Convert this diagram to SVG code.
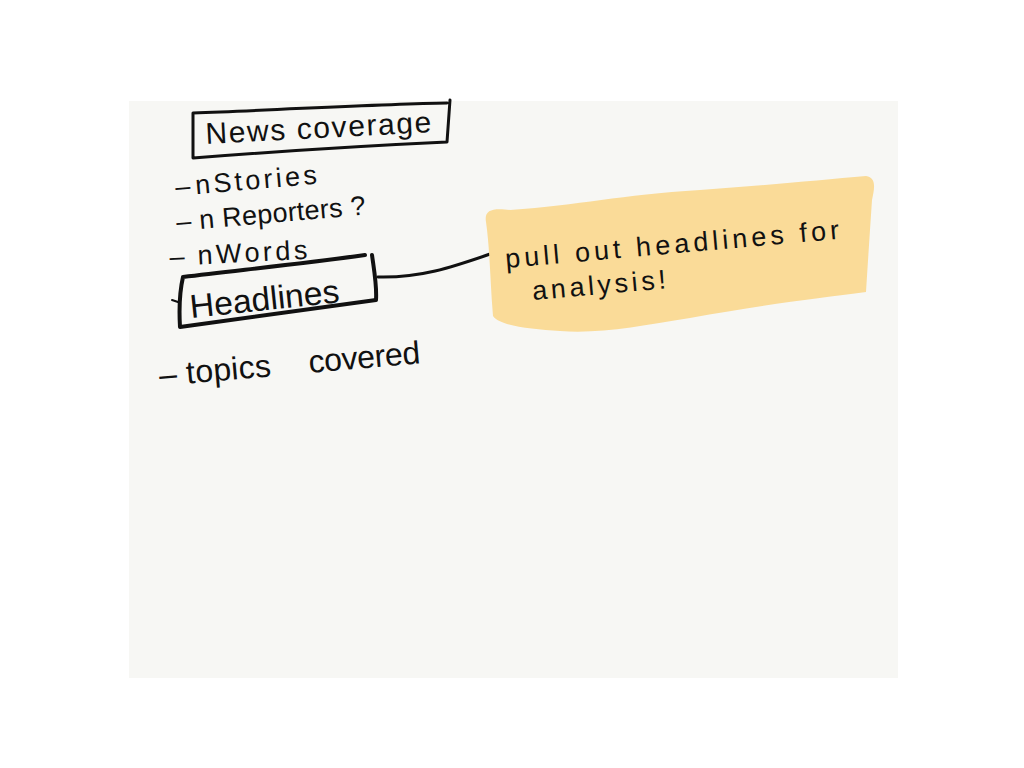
<svg xmlns="http://www.w3.org/2000/svg" width="1024" height="768" viewBox="0 0 1024 768">
<style>
.t{font-family:"Liberation Sans","DejaVu Sans",sans-serif;fill:#111;}
.box{fill:none;stroke:#111;stroke-linejoin:round;stroke-linecap:round;}
.con{fill:none;stroke:#111;stroke-width:3;stroke-linecap:round;}
</style>
<rect x="0" y="0" width="1024" height="768" fill="#ffffff"/>
<rect x="129" y="101" width="769" height="577" fill="#f7f7f4"/>
<g id="connectors">
<path class="con" d="M378,277 C420,278 450,268 493,253"/>
</g>
<g id="news-coverage">
<path class="box" stroke-width="3" d="M193,113 C280,110 380,104 447,103 M450,100 L447,142 C360,146 270,152 193,158 L193,113"/>
<text class="t" x="206" y="144" font-size="30" transform="rotate(-3 206 144)" textLength="226" lengthAdjust="spacing">News coverage</text>
</g>
<g id="list">
<text class="t" x="176" y="196" font-size="27" transform="rotate(-5 176 196)"><tspan>–</tspan><tspan x="196" textLength="122" lengthAdjust="spacing">nStories</tspan></text>
<text class="t" x="177" y="231" font-size="27" transform="rotate(-5 177 231)" textLength="190" lengthAdjust="spacing">– n Reporters ?</text>
<text class="t" x="170" y="266" font-size="27" transform="rotate(-3 170 266)"><tspan>–</tspan><tspan x="198" textLength="110" lengthAdjust="spacing">nWords</tspan></text>
<text class="t" x="160" y="386" font-size="32" transform="rotate(-5 160 386)"><tspan textLength="112" lengthAdjust="spacing">– topics</tspan><tspan x="310" textLength="112" lengthAdjust="spacing">covered</tspan></text>
</g>
<g id="headlines">
<path class="box" stroke-width="4" d="M183,277 C240,270 300,264 365,255 M372,255 C374,270 377,285 376,300 L180,327 C179,310 180,290 183,277"/>
<path class="box" stroke-width="2" d="M172,300 L178,302"/>
<text class="t" x="191" y="318" font-size="33" transform="rotate(-6 191 318)" textLength="150" lengthAdjust="spacingAndGlyphs">Headlines</text>
</g>
<g id="note">
<path fill="#fadb98" d="M486,222 C484,210 492,208 510,210 C580,205 620,195 700,190 C760,186 820,180 866,176 C876,178 875,186 872,200 C870,230 868,260 866,292 C820,298 760,305 690,318 C640,326 600,334 560,331 C530,329 500,326 493,316 C490,280 490,250 486,222 Z"/>
<text class="t" x="506" y="268" font-size="27" transform="rotate(-5 506 268)" textLength="335" lengthAdjust="spacing">pull out headlines for</text>
<text class="t" x="533" y="300" font-size="27" transform="rotate(-5 533 300)" textLength="134" lengthAdjust="spacing">analysis!</text>
</g>
</svg>
